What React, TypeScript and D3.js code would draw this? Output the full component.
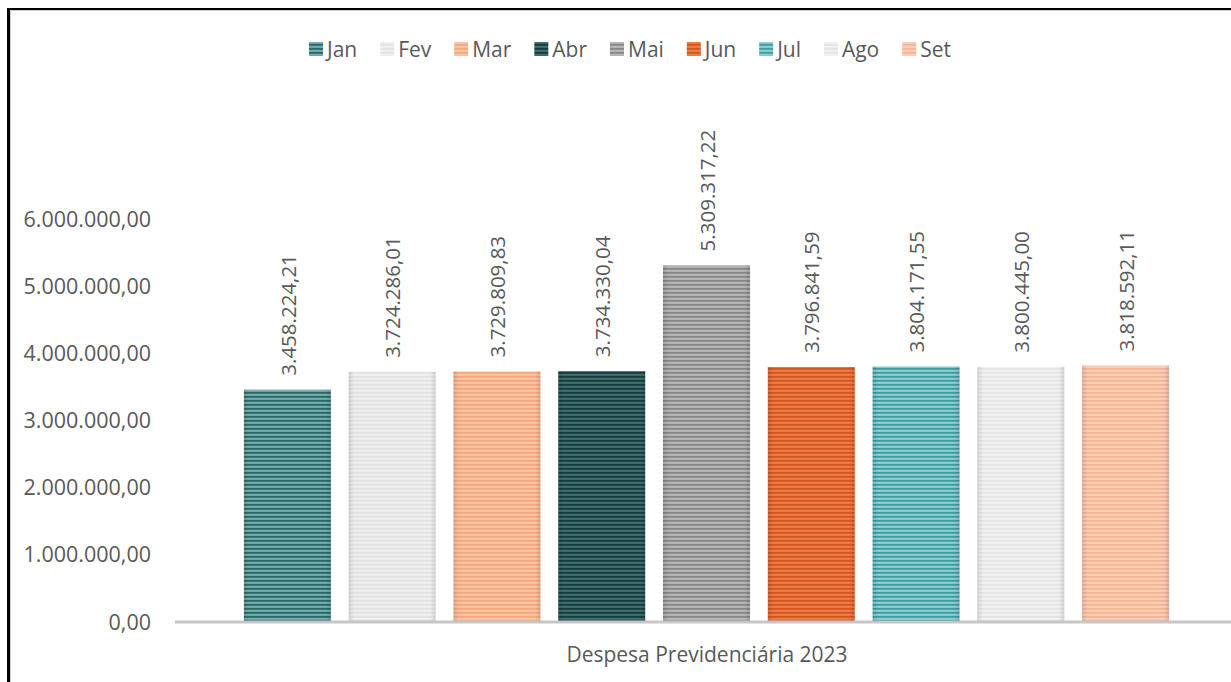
import React from "react";
import * as d3 from "d3";

const months = ["Jan", "Fev", "Mar", "Abr", "Mai", "Jun", "Jul", "Ago", "Set"];
const values = [3458224.21, 3724286.01, 3729809.83, 3734330.04, 5309317.22, 3796841.59, 3804171.55, 3800445.0, 3818592.11];
const darkColors = ["#2a6868", "#e2e2e2", "#f4a67d", "#173c3c", "#878787", "#d4521b", "#3a9ca0", "#e4e4e4", "#f7b393"];
const lightColors = ["#93c6c6", "#f4f4f4", "#fbd0b6", "#4f7e7e", "#c6c6c6", "#f08c58", "#a8dadb", "#f5f5f5", "#fcd8c6"];
const midColors = ["#4f8f8f", "#ebebeb", "#f7b994", "#2e5a5a", "#a3a3a3", "#e26b35", "#6cbcbf", "#ededed", "#f9c4aa"];
const yTicks = [0, 1000000, 2000000, 3000000, 4000000, 5000000, 6000000];
const categoryLabel = "Despesa Previdenciária 2023";

const W = 1231;
const H = 682;
const FONT = "'Open Sans', 'DejaVu Sans', sans-serif";
const TEXT = "#595959";

const locale = d3.formatLocale({ decimal: ",", thousands: ".", grouping: [3], currency: ["R$", ""] });
const fmt = locale.format(",.2f");

function measure(text: string, size: number): number {
  if (typeof document === "undefined") return text.length * size * 0.55;
  const c = document.createElement("canvas");
  const ctx = c.getContext("2d");
  if (!ctx) return text.length * size * 0.55;
  ctx.font = `${size}px 'Open Sans'`;
  return ctx.measureText(text).width;
}

export default function App() {
  const y = d3.scaleLinear().domain([0, 6000000]).range([622, 219]);
  const x = d3.scaleBand<string>().domain(months).range([235, 1178]).paddingInner(0.17).paddingOuter(0.085);

  const legendSize = 21;
  const sw = 14;
  const items = months.map((m) => ({ m, w: measure(m, legendSize) }));
  const gapSwatchText = 4;
  const total0 = items.reduce((s, it) => s + sw + gapSwatchText + it.w, 0);
  const gapItem = Math.max(14, (642 - total0) / (items.length - 1));
  const total = total0 + gapItem * (items.length - 1);
  let cursor = 630 - total / 2;
  const legendPos = items.map((it) => {
    const p = cursor;
    cursor += sw + gapSwatchText + it.w + gapItem;
    return p;
  });

  return (
    <svg
      width={W}
      height={H}
      style={{ position: "fixed", left: 0, top: 0, background: "#fff" }}
      fontFamily={FONT}
    >
      <defs>
        {months.map((m, i) => (
          <pattern key={m} id={`pat${i}`} patternUnits="userSpaceOnUse" width={8} height={4}>
            <rect x={0} y={0} width={8} height={4} fill={midColors[i]} />
            <rect x={0} y={0} width={8} height={1.6} fill={darkColors[i]} />
            <rect x={0} y={2.4} width={8} height={1} fill={lightColors[i]} />
          </pattern>
        ))}
        <linearGradient id="edge" x1="0" x2="1" y1="0" y2="0">
          <stop offset="0" stopColor="#000" stopOpacity={0.12} />
          <stop offset="0.06" stopColor="#000" stopOpacity={0} />
          <stop offset="0.94" stopColor="#000" stopOpacity={0} />
          <stop offset="1" stopColor="#000" stopOpacity={0.12} />
        </linearGradient>
      </defs>

      {/* frame */}
      <rect x={0} y={0} width={W} height={H} fill="#fff" />
      <line x1={10.5} y1={10.5} x2={W} y2={10.5} stroke="#cfcfcf" strokeWidth={1} />
      <line x1={10.5} y1={10.5} x2={10.5} y2={H} stroke="#cfcfcf" strokeWidth={1} />
      <line x1={7} y1={9} x2={W} y2={9} stroke="#000" strokeWidth={2} />
      <line x1={8.5} y1={8} x2={8.5} y2={H} stroke="#000" strokeWidth={3} />

      {/* legend */}
      {items.map((it, i) => (
        <g key={it.m} transform={`translate(${legendPos[i]},0)`}>
          <rect x={0} y={42} width={sw} height={sw} fill={`url(#pat${i})`} />
          <text x={sw + gapSwatchText} y={56.5} fontSize={legendSize} fill={TEXT}>
            {it.m}
          </text>
        </g>
      ))}

      {/* y axis labels */}
      {yTicks.map((t) => (
        <text key={t} x={151} y={y(t)} dy="0.35em" textAnchor="end" fontSize={21.5} fill={TEXT}>
          {fmt(t)}
        </text>
      ))}

      {/* bars */}
      {months.map((m, i) => {
        const bx = x(m) as number;
        const bw = x.bandwidth();
        const top = y(values[i]);
        return (
          <g key={m}>
            <rect x={bx} y={top} width={bw} height={y(0) - top} fill={`url(#pat${i})`} />
            <rect x={bx} y={top} width={bw} height={y(0) - top} fill="url(#edge)" />
            <text
              transform={`translate(${bx + bw / 2 + 1},${top - 14}) rotate(-90)`}
              dy="0.35em"
              fontSize={20.5}
              fill={TEXT}
            >
              {fmt(values[i])}
            </text>
          </g>
        );
      })}

      {/* axis line */}
      <line x1={175} y1={y(0)} x2={W} y2={y(0)} stroke="#c6c6c6" strokeWidth={3} />

      <text x={707} y={662} textAnchor="middle" fontSize={21} fill={TEXT}>
        {categoryLabel}
      </text>
    </svg>
  );
}
